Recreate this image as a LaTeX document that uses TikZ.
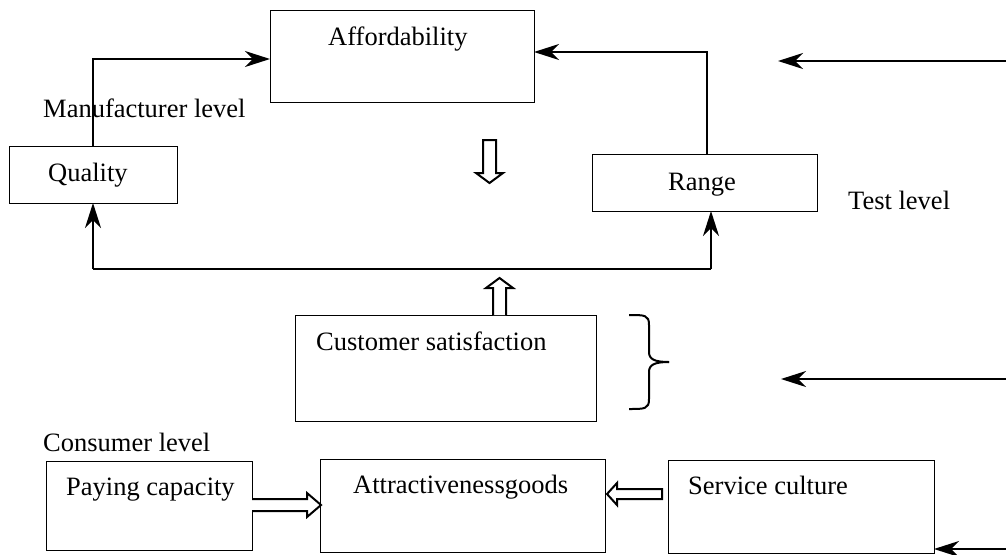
\documentclass[tikz,border=0pt]{standalone}
\usepackage{fontspec}
\setmainfont{Liberation Serif}
\usetikzlibrary{arrows.meta}
\begin{document}
\begin{tikzpicture}[x=1pt,y=-1pt,
  box/.style={draw, line width=1pt, inner sep=0pt, outer sep=0pt, anchor=north west},
  txt/.style={anchor=base west, inner sep=0pt, font=\fontsize{26.5}{30}\selectfont},
  conn/.style={line width=2pt, -{Stealth[length=25pt,width=16pt,inset=8pt]}},
  plain/.style={line width=2pt},
  hollow/.style={draw, line width=2pt, fill=white, line join=miter}]
\useasboundingbox (0,0) rectangle (1006,554);
% boxes
\node[box, minimum width=264pt, minimum height=92pt] (aff) at (270,10) {};
\node[box, minimum width=168pt, minimum height=57pt] (qual) at (9,146) {};
\node[box, minimum width=225pt, minimum height=57pt] (range) at (592,154) {};
\node[box, minimum width=301pt, minimum height=106pt] (cs) at (295,315) {};
\node[box, minimum width=206pt, minimum height=89pt] (pay) at (46,461) {};
\node[box, minimum width=285pt, minimum height=93pt] (attr) at (320,459) {};
\node[box, minimum width=266pt, minimum height=93pt] (serv) at (668,460) {};
% texts
\node[txt] (taff) at (328,45) {Affordability};
\node[txt] (tman) at (43,117) {Manufacturer level};
\node[txt] (tqual) at (48,181) {Quality};
\node[txt] (trange) at (668,190) {Range};
\node[txt] (ttest) at (848,209) {Test level};
\node[txt] (tcs) at (316,350) {Customer satisfaction};
\node[txt] (tcons) at (43,451) {Consumer level};
\node[txt] (tpay) at (66,495) {Paying capacity};
\node[txt] (tattr) at (353,493) {Attractivenessgoods};
\node[txt] (tserv) at (688,494) {Service culture};
% connectors
\coordinate (qtop) at (qual.north);
\coordinate (rtop) at ([xshift=2.5pt]range.north);
\draw[conn] (qtop) |- (aff.west |- 0,59);
\draw[conn] (rtop) |- (aff.east |- 0,52);
\coordinate (r1) at (1006,61);
\coordinate (l1) at (778,61);
\draw[conn] (r1) -- (l1);
\coordinate (r2) at (1006,379);
\coordinate (l2) at (781,379);
\draw[conn] (r2) -- (l2);
\coordinate (r3) at (1006,549);
\draw[conn] (r3) -- (serv.east |- r3);
\coordinate (bl) at (qual.south |- 0,269);
\coordinate (br) at ([xshift=6.5pt]range.south |- 0,269);
\draw[plain] (bl) -- (br);
\draw[conn] (bl) -- (qual.south);
\draw[conn] (br) -- ([xshift=6.5pt]range.south);
% hollow arrows
\draw[hollow] (483,140) -- (496,140) -- (496,173) -- (503,173) -- (489.5,183) -- (476,173) -- (483,173) -- cycle;
\draw[hollow] (493,315) -- (493,288) -- (486,288) -- (499.5,278) -- (513,288) -- (506,288) -- (506,315);
\draw[hollow] (252,499) -- (307,499) -- (307,493) -- (321,505) -- (307,517) -- (307,511) -- (252,511);
\draw[hollow] (662,489) -- (617,489) -- (617,483) -- (607,494) -- (617,505) -- (617,499) -- (662,499) -- cycle;
% brace
\draw[line width=2pt] (629,315) .. controls (645,315) and (649,315) .. (649,325) -- (649,352)
  .. controls (649,359) and (654,362) .. (669,362);
\draw[line width=2pt] (669,362) .. controls (654,362) and (649,365) .. (649,372) -- (649,399)
  .. controls (649,409) and (645,409) .. (629,409);
\end{tikzpicture}
\end{document}
